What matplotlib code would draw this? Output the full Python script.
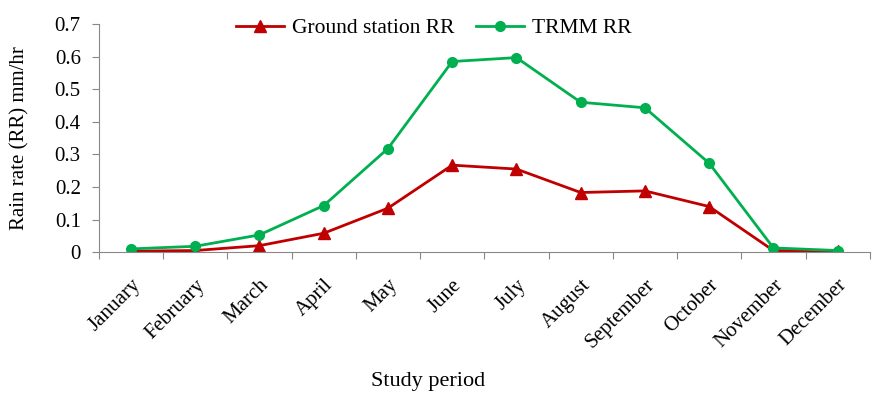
import numpy as np
import matplotlib
matplotlib.use("Agg")
import matplotlib.pyplot as plt

months = ["January", "February", "March", "April", "May", "June", "July",
          "August", "September", "October", "November", "December"]
ground_rr = [0.003, 0.005, 0.02, 0.058, 0.135, 0.267, 0.255, 0.183, 0.188, 0.14, 0.005, 0.003]
trmm_rr = [0.01, 0.018, 0.053, 0.143, 0.318, 0.585, 0.597, 0.46, 0.443, 0.273, 0.013, 0.005]

plt.rcParams['font.family'] = ['Liberation Serif', 'DejaVu Serif']

fig = plt.figure(figsize=(8.75, 3.94), dpi=100)
ax = fig.add_axes([0.113, 0.36, 0.881, 0.579])

x = np.arange(len(months))
ax.plot(x, ground_rr, color='#c00000', marker='^', markersize=8.5, lw=2, label='Ground station RR')
ax.plot(x, trmm_rr, color='#00b050', marker='o', markersize=7, lw=2, label='TRMM RR')

ax.set_xlim(-0.5, len(months) - 0.5)
ax.set_ylim(0, 0.7)
ax.set_yticks(np.arange(0, 0.71, 0.1))
ax.set_yticklabels(['0'] + ['%.1f' % v for v in np.arange(0.1, 0.71, 0.1)], fontsize=15)

# ticks between categories, labels at centres
ax.set_xticks(np.arange(-0.5, len(months), 1.0))
ax.set_xticklabels([])
ax.set_xticks(x, minor=True)
ax.set_xticklabels(months, minor=True, rotation=45, ha='right', rotation_mode='anchor', fontsize=15)
ax.tick_params(axis='x', which='minor', length=0, pad=17)
ax.tick_params(axis='x', which='major', length=5, color='#888888', direction='out')
ax.tick_params(axis='y', length=5, color='#888888', direction='out', pad=8)

for s in ['top', 'right']:
    ax.spines[s].set_visible(False)
for s in ['left', 'bottom']:
    ax.spines[s].set_color('#888888')

ax.set_ylabel('Rain rate (RR) mm/hr', fontsize=15, labelpad=18)
ax.set_xlabel('Study period', fontsize=16, va='center')
ax.xaxis.set_label_coords(0.427, -0.565)

ax.legend(loc='upper center', bbox_to_anchor=(0.435, 1.11), ncol=2, frameon=False,
          fontsize=15.5, handlelength=2.2, columnspacing=1.0, handletextpad=0.4)

fig.savefig('out.png', dpi=100)
